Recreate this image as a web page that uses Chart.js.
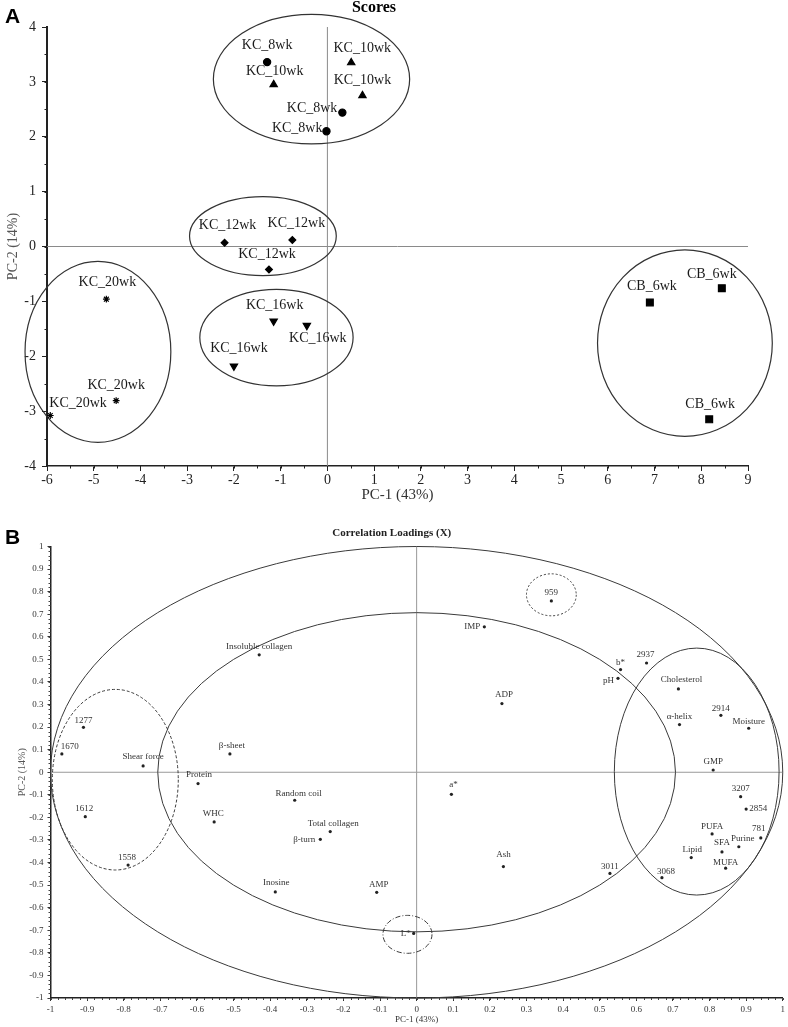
<!DOCTYPE html>
<html><head><meta charset="utf-8">
<script src="https://cdn.jsdelivr.net/npm/chart.js@4.4.1/dist/chart.umd.min.js"></script>
<style>
html,body{margin:0;padding:0;background:#fff;}
body{width:788px;height:1027px;position:relative;overflow:hidden;}
#wa{position:absolute;left:0;top:0;width:788px;height:504px;}
#wb{position:absolute;left:0;top:500px;width:788px;height:527px;}
.tag{position:absolute;font-family:"Liberation Sans",Arial,sans-serif;font-weight:bold;font-size:21px;color:#000;line-height:1;}
</style></head><body>
<div id="wa"><canvas id="ca"></canvas></div>
<div id="wb"><canvas id="cb"></canvas></div>
<div class="tag" style="left:5px;top:5px">A</div>
<div class="tag" style="left:5px;top:526px">B</div>
<script>
// ---------------- DATA: Panel A (Scores) ----------------
const scoreGroups = ['KC_8wk','KC_10wk','KC_12wk','KC_16wk','KC_20wk','CB_6wk'];
const kc8wkPC1  = [-1.29, 0.32, -0.02];
const kc8wkPC2  = [ 3.36, 2.44,  2.10];
const kc10wkPC1 = [-1.15, 0.51,  0.75];
const kc10wkPC2 = [ 2.95, 3.35,  2.75];
const kc12wkPC1 = [-2.20, -0.75, -1.25];
const kc12wkPC2 = [ 0.07,  0.12, -0.42];
const kc16wkPC1 = [-1.15, -0.44, -2.00];
const kc16wkPC2 = [-1.36, -1.44, -2.18];
const kc20wkPC1 = [-4.73, -4.52, -5.93];
const kc20wkPC2 = [-0.96, -2.81, -3.08];
const cb6wkPC1  = [ 6.90,  8.44,  8.17];
const cb6wkPC2  = [-1.02, -0.76, -3.15];
const xTicksA = [-6,-5,-4,-3,-2,-1,0,1,2,3,4,5,6,7,8,9];
const yTicksA = [-4,-3,-2,-1,0,1,2,3,4];

// ---------------- DATA: Panel B (Correlation loadings) ----------------
const loadingNames = ['1277','1670','Shear force','β-sheet','Insoluble collagen','Protein','1612','1558','WHC',
  'Random coil','Total collagen','β-turn','Inosine','AMP','L*','a*','Ash','3011','3068','Lipid','PUFA','SFA',
  'MUFA','Purine','781','3207','2854','GMP','959','IMP','b*','pH','2937','Cholesterol','ADP','α-helix','2914','Moisture'];
const loadingPC1 = [-0.910,-0.969,-0.747,-0.510,-0.430,-0.597,-0.905,-0.788,-0.553,
  -0.333,-0.236,-0.263,-0.386,-0.109,-0.008,0.095,0.237,0.528,0.670,0.750,0.807,0.834,
  0.844,0.880,0.940,0.885,0.900,0.810,0.368,0.185,0.557,0.550,0.628,0.715,0.233,0.718,0.831,0.907];
const loadingPC2 = [0.199,0.081,0.028,0.081,0.520,-0.050,-0.197,-0.411,-0.220,
  -0.124,-0.263,-0.297,-0.530,-0.532,-0.714,-0.098,-0.418,-0.448,-0.467,-0.378,-0.273,-0.353,
  -0.425,-0.330,-0.291,-0.108,-0.163,0.010,0.759,0.644,0.455,0.416,0.484,0.369,0.304,0.211,0.252,0.195];
const xTicksB = [-1,-0.9,-0.8,-0.7,-0.6,-0.5,-0.4,-0.3,-0.2,-0.1,0,0.1,0.2,0.3,0.4,0.5,0.6,0.7,0.8,0.9,1];
const yTicksB = [-1,-0.9,-0.8,-0.7,-0.6,-0.5,-0.4,-0.3,-0.2,-0.1,0,0.1,0.2,0.3,0.4,0.5,0.6,0.7,0.8,0.9,1];

// ---------------- Group ellipses (data units) ----------------
const ellipsesA = [
  {cx:-0.34, cy:3.05, rx:2.10, ry:1.18},
  {cx:-1.38, cy:0.19, rx:1.57, ry:0.72},
  {cx:-4.91, cy:-1.92, rx:1.56, ry:1.65},
  {cx:-1.09, cy:-1.66, rx:1.64, ry:0.88},
  {cx:7.65, cy:-1.76, rx:1.87, ry:1.70}
];
const ellipsesB = [
  {cx:0, cy:0, rx:1, ry:1},
  {cx:0, cy:0, rx:0.707, ry:0.707},
  {cx:-0.823, cy:-0.033, rx:0.172, ry:0.40, dash:[3,2]},
  {cx:0.765, cy:0.003, rx:0.225, ry:0.547},
  {cx:0.368, cy:0.786, rx:0.068, ry:0.093, dash:[2,2]},
  {cx:-0.025, cy:-0.718, rx:0.067, ry:0.084, dash:[5,2,1,2]}
];

// ---------------- Label placement (styling) ----------------
const offsA = {
  'KC_8wk':  [[0,-17,'c'],[-5,-4,'r'],[-4,-3,'r']],
  'KC_10wk': [[1,-13,'c'],[11,-14,'c'],[0,-15,'c']],
  'KC_12wk': [[3,-17,'c'],[4,-17,'c'],[-2,-15,'c']],
  'KC_16wk': [[1,-16,'c'],[11,13,'c'],[5,-18,'c']],
  'KC_20wk': [[1,-17,'c'],[0,-15,'c'],[-1,-12,'l']],
  'CB_6wk':  [[2,-16,'c'],[-10,-14,'c'],[1,-15,'c']]
};
const offsB = {
  '1277':[0,-7,'c'],'1670':[8,-7,'c'],'Shear force':[0,-9,'c'],'β-sheet':[2,-8,'c'],'Insoluble collagen':[0,-8,'c'],
  'Protein':[1,-9,'c'],'1612':[-1,-8,'c'],'1558':[-1,-7,'c'],'WHC':[-1,-8,'c'],'Random coil':[4,-7,'c'],
  'Total collagen':[3,-8,'c'],'β-turn':[-5,0,'r'],'Inosine':[1,-9,'c'],'AMP':[2,-8,'c'],'L*':[-3,0,'r'],
  'a*':[2,-10,'c'],'Ash':[0,-12,'c'],'3011':[0,-7,'c'],'3068':[4,-6,'c'],'Lipid':[1,-8,'c'],'PUFA':[0,-7,'c'],
  'SFA':[0,-9,'c'],'MUFA':[0,-6,'c'],'Purine':[4,-8,'c'],'781':[-2,-9,'c'],'3207':[0,-8,'c'],'2854':[3,0,'l'],
  'GMP':[0,-8,'c'],'959':[0,-8,'c'],'IMP':[-4,0,'r'],'b*':[0,-7,'c'],'pH':[-4,2,'r'],'2937':[-1,-8,'c'],
  'Cholesterol':[3,-9,'c'],'ADP':[2,-9,'c'],'α-helix':[0,-8,'c'],'2914':[0,-7,'c'],'Moisture':[0,-7,'c']
};

// ---------------- Plugins ----------------
const ellipsePlugin = {
  id:'ellipses',
  beforeDatasetsDraw(chart, args, opts){
    const {ctx, chartArea:a, scales:{x,y}} = chart;
    ctx.save();
    ctx.strokeStyle = opts.zeroColor; ctx.lineWidth = 1;
    const y0 = y.getPixelForValue(0), x0 = x.getPixelForValue(0);
    ctx.beginPath();
    ctx.moveTo(a.left, y0); ctx.lineTo(a.right, y0);
    ctx.moveTo(x0, a.top); ctx.lineTo(x0, a.bottom);
    ctx.stroke();
    for (const e of opts.items){
      const cx = x.getPixelForValue(e.cx), cy = y.getPixelForValue(e.cy);
      const rx = Math.abs(x.getPixelForValue(e.cx+e.rx)-cx);
      const ry = Math.abs(y.getPixelForValue(e.cy+e.ry)-cy);
      ctx.setLineDash(e.dash||[]);
      ctx.strokeStyle = opts.color; ctx.lineWidth = opts.width;
      ctx.beginPath(); ctx.ellipse(cx,cy,rx,ry,0,0,Math.PI*2); ctx.stroke();
    }
    ctx.restore();
  }
};
const minorTickPlugin = {
  id:'minorTicks',
  afterDraw(chart, args, opts){
    const {ctx, chartArea:a, scales:{x,y}} = chart;
    ctx.save(); ctx.strokeStyle = opts.color; ctx.lineWidth = 1;
    ctx.beginPath();
    const nx = Math.round((x.max-x.min)/opts.step);
    for (let i=0;i<=nx;i++){
      const v = x.min + i*opts.step;
      const px = Math.round(x.getPixelForValue(v))+0.5;
      ctx.moveTo(px, a.bottom); ctx.lineTo(px, a.bottom+opts.len);
    }
    const ny = Math.round((y.max-y.min)/opts.stepY);
    for (let i=0;i<=ny;i++){
      const v = y.min + i*opts.stepY;
      const py = Math.round(y.getPixelForValue(v))+0.5;
      ctx.moveTo(a.left, py); ctx.lineTo(a.left-opts.len, py);
    }
    ctx.stroke(); ctx.restore();
  }
};
const pointLabelPlugin = {
  id:'pointLabels',
  afterDatasetsDraw(chart, args, opts){
    const ctx = chart.ctx;
    ctx.save();
    ctx.font = opts.font; ctx.fillStyle = opts.color; ctx.textBaseline = 'middle';
    chart.data.datasets.forEach((ds, di)=>{
      const meta = chart.getDatasetMeta(di);
      meta.data.forEach((el, i)=>{
        const off = ds.textOffset[i];
        ctx.textAlign = off[2]==='c' ? 'center' : (off[2]==='r' ? 'right' : 'left');
        ctx.fillText(ds.pointText[i], el.x+off[0], el.y+off[1]);
      });
    });
    ctx.restore();
  }
};

const zip = (a,b)=>a.map((v,i)=>({x:v,y:b[i]}));
const serif = '"Liberation Serif","Times New Roman",serif';

// ---------------- Chart A ----------------
const groupPC1 = [kc8wkPC1,kc10wkPC1,kc12wkPC1,kc16wkPC1,kc20wkPC1,cb6wkPC1];
const groupPC2 = [kc8wkPC2,kc10wkPC2,kc12wkPC2,kc16wkPC2,kc20wkPC2,cb6wkPC2];
const groupStyle = [
  {pointStyle:'circle', pointRadius:3.6, rot:0},
  {pointStyle:'triangle', pointRadius:4.2, rot:0},
  {pointStyle:'rectRot', pointRadius:3.4, rot:0},
  {pointStyle:'triangle', pointRadius:4.2, rot:180},
  {pointStyle:'star', pointRadius:3.4, rot:0},
  {pointStyle:'rect', pointRadius:4.8, rot:0}
];
const dsA = scoreGroups.map((g,gi)=>({
  label:g,
  data: zip(groupPC1[gi], groupPC2[gi]),
  pointStyle: groupStyle[gi].pointStyle,
  pointRadius: groupStyle[gi].pointRadius,
  pointRotation: groupStyle[gi].rot,
  backgroundColor:'#000', borderColor:'#000', borderWidth:1.2,
  showLine:false, clip:false,
  pointText: groupPC1[gi].map(()=>g),
  textOffset: offsA[g]
}));

new Chart(document.getElementById('ca'), {
  type:'scatter',
  data:{datasets:dsA},
  plugins:[ellipsePlugin, minorTickPlugin, pointLabelPlugin],
  options:{
    responsive:true, maintainAspectRatio:false, animation:false,
    layout:{padding:{left:0,right:40,top:0,bottom:0}},
    plugins:{
      legend:{display:false}, tooltip:{enabled:false},
      title:{display:true, text:'Scores', color:'#000',
        font:{family:serif, size:16, weight:'bold', lineHeight:1}, padding:{top:0,bottom:11}},
      ellipses:{items:ellipsesA, color:'#333', width:1.2, zeroColor:'#8a8a8a'},
      minorTicks:{step:0.5, stepY:0.5, len:2.5, color:'#222'},
      pointLabels:{font:'14px '+serif, color:'#1a1a1a'}
    },
    scales:{
      x:{type:'linear', min:-6, max:9,
        afterBuildTicks:s=>{s.ticks = xTicksA.map(v=>({value:v}));},
        afterFit:s=>{s.height=38;},
        ticks:{font:{family:serif,size:14}, color:'#222', padding:1, maxRotation:0, autoSkip:false},
        grid:{drawOnChartArea:false, drawTicks:true, tickLength:5, color:'#222'},
        border:{display:true, color:'#222', width:1.6},
        title:{display:true, text:'PC-1 (43%)', color:'#333', font:{family:serif,size:15}, padding:{top:0,bottom:0}}
      },
      y:{type:'linear', min:-4, max:4,
        afterBuildTicks:s=>{s.ticks = yTicksA.map(v=>({value:v}));},
        afterFit:s=>{s.width=47;},
        ticks:{font:{family:serif,size:14}, color:'#222', padding:6, autoSkip:false},
        grid:{drawOnChartArea:false, drawTicks:true, tickLength:5, color:'#222'},
        border:{display:true, color:'#222', width:2},
        title:{display:true, text:'PC-2 (14%)', color:'#555', font:{family:serif,size:14}, padding:{top:5,bottom:0}}
      }
    }
  }
});

// ---------------- Chart B ----------------
new Chart(document.getElementById('cb'), {
  type:'scatter',
  data:{datasets:[{
    label:'Loadings',
    data: zip(loadingPC1, loadingPC2),
    pointStyle:'circle', pointRadius:1.6, backgroundColor:'#222', borderColor:'#222', borderWidth:0,
    showLine:false, clip:false,
    pointText: loadingNames,
    textOffset: loadingNames.map(n=>offsB[n])
  }]},
  plugins:[ellipsePlugin, minorTickPlugin, pointLabelPlugin],
  options:{
    responsive:true, maintainAspectRatio:false, animation:false,
    layout:{padding:{left:0,right:4.5,top:0,bottom:0}},
    plugins:{
      legend:{display:false}, tooltip:{enabled:false},
      title:{display:true, text:'Correlation Loadings (X)', color:'#222',
        font:{family:serif, size:11, weight:'bold', lineHeight:1}, padding:{top:27.5,bottom:8}},
      ellipses:{items:ellipsesB, color:'#3a3a3a', width:1, zeroColor:'#999'},
      minorTicks:{step:0.02, stepY:0.02, len:2, color:'#444'},
      pointLabels:{font:'9px '+serif, color:'#333'}
    },
    scales:{
      x:{type:'linear', min:-1, max:1,
        afterBuildTicks:s=>{s.ticks = xTicksB.map(v=>({value:v}));},
        afterFit:s=>{s.height=29;},
        ticks:{font:{family:serif,size:9}, color:'#333', padding:3, maxRotation:0, autoSkip:false,
          callback:v=>String(v)},
        grid:{drawOnChartArea:false, drawTicks:true, tickLength:3, color:'#333'},
        border:{display:true, color:'#222', width:1.5},
        title:{display:true, text:'PC-1 (43%)', color:'#333', font:{family:serif,size:9}, padding:{top:0,bottom:1.5}}
      },
      y:{type:'linear', min:-1, max:1,
        afterBuildTicks:s=>{s.ticks = yTicksB.map(v=>({value:v}));},
        afterFit:s=>{s.width=50.5;},
        ticks:{font:{family:serif,size:9}, color:'#333', padding:4, autoSkip:false,
          callback:v=>String(v)},
        grid:{drawOnChartArea:false, drawTicks:true, tickLength:3, color:'#333'},
        border:{display:true, color:'#222', width:1.5},
        title:{display:true, text:'PC-2 (14%)', color:'#555', font:{family:serif,size:10}, padding:{top:16,bottom:0}}
      }
    }
  }
});
</script>
</body></html>
